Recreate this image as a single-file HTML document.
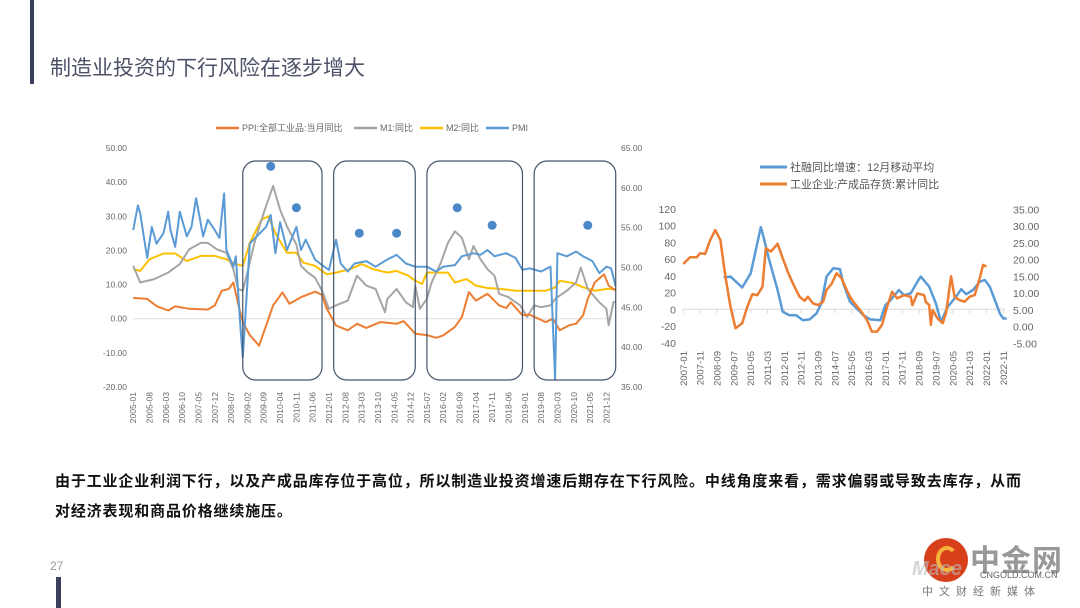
<!DOCTYPE html>
<html><head><meta charset="utf-8">
<style>
body{margin:0;width:1080px;height:608px;background:#fff;overflow:hidden;position:relative;font-family:"Liberation Sans","Noto Sans CJK SC",sans-serif}
#title{position:absolute;left:50px;top:52px;font-size:21px;color:#4d5268;white-space:nowrap}
#para{position:absolute;left:55px;top:467px;font-size:15px;font-weight:bold;color:#111;letter-spacing:0.85px;line-height:30px;width:1000px}
</style></head><body>
<div style="position:absolute;left:30px;top:0;width:4px;height:84px;background:#3a3f5c"></div>
<div id="title">制造业投资的下行风险在逐步增大</div>
<div id="para">由于工业企业利润下行，以及产成品库存位于高位，所以制造业投资增速后期存在下行风险。中线角度来看，需求偏弱或导致去库存，从而<br>对经济表现和商品价格继续施压。</div>
<div style="position:absolute;left:50px;top:559px;font-size:12px;color:#999">27</div>
<div style="position:absolute;left:56px;top:577px;width:5px;height:31px;background:#3a3f5c"></div>
<div style="position:absolute;left:920px;top:536px;width:160px;height:72px">
  <div style="position:absolute;left:4px;top:2px;width:44px;height:44px;border-radius:50%;background:#d8401c"></div>
  <div style="position:absolute;left:16px;top:10px;width:22px;height:26px;border-radius:50%;border:4px solid #f5b43c;border-right-color:transparent;box-sizing:border-box"></div>
  <div style="position:absolute;left:50px;top:0;font-size:30px;font-weight:bold;color:#999;letter-spacing:1px">中金网</div>
  <div style="position:absolute;left:-8px;top:22px;font-size:20px;font-weight:bold;font-style:italic;color:#bbb;opacity:.6">Mace</div>
  <div style="position:absolute;left:60px;top:34px;font-size:9px;color:#666">CNGOLD.COM.CN</div>
  <div style="position:absolute;left:2px;top:47px;font-size:11px;color:#777;letter-spacing:6px">中文财经新媒体</div>
</div>
<svg id="c" width="1080" height="608" style="position:absolute;left:0;top:0"></svg>
<script>
// ===== Left chart data (month index from 2005-01) =====
const leftTickLabels=["2005-01","2005-08","2006-03","2006-10","2007-05","2007-12","2008-07","2009-02","2009-09","2010-04","2010-11","2011-06","2012-01","2012-08","2013-03","2013-10","2014-05","2014-12","2015-07","2016-02","2016-09","2017-04","2017-11","2018-06","2019-01","2019-08","2020-03","2020-10","2021-05","2021-12"];
const leftAxisTicks=[50,40,30,20,10,0,-10,-20];
const rightAxisTicks=[65,60,55,50,45,40,35];
const ppiMonths=[0,6,10,15,18,24,32,35,38,41,43,45,47,50,54,60,64,67,72,78,81,83,87,92,96,100,106,113,116,121,126,130,133,138,141,144,147,152,157,160,162,167,170,177,180,183,187,190,193,195,198,202,204,207];
const ppiValues=[6.1,5.8,3.7,2.4,3.6,2.9,2.7,3.9,8.2,8.7,10.6,4.4,-1,-4.8,-7.9,3.9,7.7,4.4,6.3,7.9,7,3,-2,-3.4,-1.5,-2.7,-1,-1.5,-0.7,-4.4,-4.8,-5.6,-4.9,-2.4,0.5,7.8,5.3,7.3,3.9,3.1,4.8,1,1.2,-1,0,-3.4,-1.9,-1.5,1,5.8,10.6,13,9.7,8.2];
const m1Months=[0,3,9,15,20,24,29,32,36,40,43,45,47,49,52,56,60,63,66,70,72,75,78,81,84,87,92,96,100,104,108,109,113,117,120,121,123,126,128,132,135,138,141,144,146,149,152,155,157,161,166,169,172,175,179,181,186,190,192,195,200,203,204,206,207];
const m1Values=[15.5,10.6,11.6,13.5,16,20.3,22.2,22.2,20.3,19.3,14.5,8.7,8.2,13.5,22.2,31,38.9,31.9,27,21.7,15.5,13.5,12,8.2,2.9,3.9,5.3,12.6,9.7,8.7,1.9,5.8,8.7,4.8,3.4,9.7,2.9,5.8,10.6,16.4,22.2,25.6,23.7,17.4,21.3,17.4,14.5,12.6,7.3,6.3,3.9,0.5,3.9,3.4,3.9,5.8,8.2,10.6,15,8.7,4.8,2.9,-1.9,4.8,5];
const m2Months=[0,3,7,13,18,23,29,35,40,44,47,50,55,58,61,66,70,73,78,83,87,93,98,103,109,113,118,121,124,126,130,135,138,143,147,152,158,164,170,177,181,183,189,193,198,203,207];
const m2Values=[14.5,14,17.4,19.1,19.1,16.9,18.4,18.4,17.4,16,15.5,22.2,29,30,25,19.3,19.3,16.4,15.5,13,13.5,14.5,16,14.5,13.5,14,12.6,11.1,10.2,13.5,13.5,13.5,10.6,11.6,9.7,9,8.7,8.2,8.2,8.2,9.2,11.1,10.4,9.2,8.2,8.7,8.7];
const pmiMonths=[0,2,3,5,6,8,10,13,15,16,18,20,23,25,27,30,32,35,37,39,40,43,44,46,47,49,50,53,57,59,61,63,66,70,72,74,78,81,84,87,89,92,95,100,104,109,113,117,121,126,130,133,138,141,146,149,152,155,160,164,167,170,175,179,181,182,186,190,193,197,200,203,205,207];
const pmiValues=[54.7,57.8,56.8,53,51.2,55.1,53,54.3,57,54.7,52.6,57,53.9,55.1,58.7,53.9,56,54.7,53.7,59.3,52.2,50.1,51.4,42.6,38.7,48,53,53.9,55.1,56.6,51.8,55.7,52.2,55.1,52.2,53.5,51,50.3,49.7,53.5,50.5,49.5,50.5,50.8,50.1,51,51.6,50.5,50.1,50.1,49.5,50.1,50.3,51.4,51.8,51.6,52.2,51.4,51.8,51.2,49.7,49.9,49.5,50.1,36,51.8,51.4,52,51.4,50.8,49.3,50.1,49.9,47.6];
const dotMonths=[59,70,97,113,139,154,195];
const dotValues=[62.7,57.5,54.3,54.3,57.5,55.3,55.3];
const boxMonths=[[47,81],[86,121],[126,167],[172,207]];
// ===== Right chart data (month index from 2007-01) =====
const rTickLabels=["2007-01","2007-11","2008-09","2009-07","2010-05","2011-03","2012-01","2012-11","2013-09","2014-07","2015-05","2016-03","2017-01","2017-11","2018-09","2019-07","2020-05","2021-03","2022-01","2022-11"];
const rLeftTicks=[120,100,80,60,40,20,0,-20,-40];
const rRightTicks=["35.00","30.00","25.00","20.00","15.00","10.00","5.00","0.00","-5.00"];
const tsfMonths=[24,28,35,40,46,47,51,56,59,63,67,71,75,79,82,85,89,93,95,99,103,107,111,117,120,123,128,131,135,139,141,146,150,153,157,162,165,168,172,176,179,182,188,190,192];
const tsfValues=[38,39,26,43,98,91,59,23,-3,-7,-7,-13,-12,-5,7,39,49,48,31,9,1,-7,-12,-13,5,11,23,17,19,33,39,27,7,-15,3,15,24,18,23,33,35,27,-5,-11,-11];
const invMonths=[0,4,8,10,13,16,19,22,25,28,31,35,38,41,44,47,49,52,56,59,62,65,69,72,74,77,80,83,85,88,91,94,97,99,101,105,109,112,115,118,121,124,127,131,135,136,139,143,144,146,147,148,151,154,156,159,161,164,167,170,173,176,178,180];
const invValues=[18.7,20.7,20.7,21.9,21.7,25.8,28.8,25.8,14.9,5.9,-0.5,1,5.9,9.7,9.4,11.9,23.4,22.4,24.7,20.4,16.4,12.9,8.9,7.7,8.9,6.9,6.4,7.4,10.9,12.7,15.9,14.4,10.9,8.9,7.4,4.9,2,-1.5,-1.5,0.5,5.9,10.4,8.4,9.4,8.9,6.4,9.9,9.4,7.4,6.4,0.5,4.9,2.4,1,4,15,8.9,7.9,7.4,8.9,9.4,14.4,18.4,17.9];

const svg=document.getElementById('c');const NS='http://www.w3.org/2000/svg';
function mk(t,a,p){const e=document.createElementNS(NS,t);for(const k in a)e.setAttribute(k,a[k]);(p||svg).appendChild(e);return e;}
// left scales
const lx=m=>133.2+m*(473.2/203);
const ly=v=>318.7-(v)*(239/70);
const lyR=v=>148+(65-v)*(239/30);
// right scales
const rx=m=>683.3+m*(320/190);
const ry=v=>309.3-v*(16.75/20);
const ryR=v=>209.3+(35-v)*(134/40);
const lab='fill:#666;font-size:8.5px;font-family:"Liberation Sans",sans-serif';

const gl=mk('g',{});
let e=mk('line',{x1:133,x2:612,y1:ly(0),y2:ly(0),stroke:'#ddd','stroke-width':1},gl);

leftAxisTicks.forEach(v=>{const t=mk('text',{x:127,y:ly(v)+3,'text-anchor':'end',style:lab},gl);t.textContent=v.toFixed(2);
});
rightAxisTicks.forEach(v=>{const t=mk('text',{x:621,y:lyR(v)+3,style:lab},gl);t.textContent=v.toFixed(2);
});
leftTickLabels.forEach((s,i)=>{const x=lx(i*7);const t=mk('text',{x:0,y:0,transform:`translate(${x+3},${392}) rotate(-90)`,'text-anchor':'end',style:lab},gl);t.textContent=s;
});
function line(ms,vs,X,Y,col,w,name,p){const d=ms.map((m,i)=>(i?'L':'M')+X(m).toFixed(1)+' '+Y(vs[i]).toFixed(1)).join(' ');
const el=mk('path',{d:d,fill:'none',stroke:col,'stroke-width':w,'stroke-linejoin':'round'},p);
}
line(m2Months,m2Values,lx,ly,'#ffc000',2,'m2-line',gl);
line(m1Months,m1Values,lx,ly,'#a5a5a5',2,'m1-line',gl);
line(ppiMonths,ppiValues,lx,ly,'#ed7d31',2,'ppi-line',gl);
line(pmiMonths,pmiValues,lx,lyR,'#5b9bd5',2,'pmi-line',gl);
dotMonths.forEach((m,i)=>{const c=mk('circle',{cx:lx(m),cy:lyR(dotValues[i]),r:4.5,fill:'#4a88c7'},gl);
});
boxMonths.forEach(b=>{const r=mk('rect',{x:lx(b[0]),y:161,width:lx(b[1])-lx(b[0]),height:219,rx:13,fill:'none',stroke:'#44546a','stroke-width':1.2},gl);
});
// left legend
const leg=[[216,242,'#ed7d31','PPI:全部工业品:当月同比'],[354,380,'#a5a5a5','M1:同比'],[420,446,'#ffc000','M2:同比'],[486,512,'#5b9bd5','PMI']];
leg.forEach(l=>{const g=mk('g',{},gl);
mk('line',{x1:l[0],x2:l[0]+23,y1:128,y2:128,stroke:l[2],'stroke-width':2.5},g);
const t=mk('text',{x:l[1],y:131,style:'fill:#666;font-size:9px;font-family:"Liberation Sans","Noto Sans CJK SC",sans-serif'},g);t.textContent=l[3];});

// right chart
const gr=mk('g',{});
e=mk('line',{x1:683,x2:1005,y1:ry(0),y2:ry(0),stroke:'#d9d9d9','stroke-width':1},gr);

const lab2='fill:#666;font-size:10.5px;font-family:"Liberation Sans",sans-serif';
rLeftTicks.forEach(v=>{const t=mk('text',{x:676,y:ry(v)+4,'text-anchor':'end',style:lab2},gr);t.textContent=v;
});
rRightTicks.forEach((s,i)=>{const t=mk('text',{x:1013,y:ryR(35-5*i)+4,style:lab2},gr);t.textContent=s;
});
rTickLabels.forEach((s,i)=>{const x=rx(i*10);
const tk=mk('line',{x1:x,x2:x,y1:ry(0),y2:ry(0)+4,stroke:'#d9d9d9'},gr);
const t=mk('text',{x:0,y:0,transform:`translate(${x+3.5},${351}) rotate(-90)`,'text-anchor':'end',style:'fill:#666;font-size:9.5px;font-family:"Liberation Sans",sans-serif'},gr);t.textContent=s;
});
line(tsfMonths,tsfValues,rx,ry,'#5b9bd5',2.5,'tsf-growth-line',gr);
line(invMonths,invValues,rx,ryR,'#ed7d31',2.5,'inventory-line',gr);
[[167,'#5b9bd5','社融同比增速：12月移动平均'],[184,'#ed7d31','工业企业:产成品存货:累计同比']].forEach(l=>{
const g=mk('g',{},gr);
mk('line',{x1:760,x2:787,y1:l[0],y2:l[0],stroke:l[1],'stroke-width':3},g);
const t=mk('text',{x:790,y:l[0]+4,style:'fill:#555;font-size:11px;font-family:"Liberation Sans","Noto Sans CJK SC",sans-serif'},g);t.textContent=l[2];});
</script>
</body></html>
